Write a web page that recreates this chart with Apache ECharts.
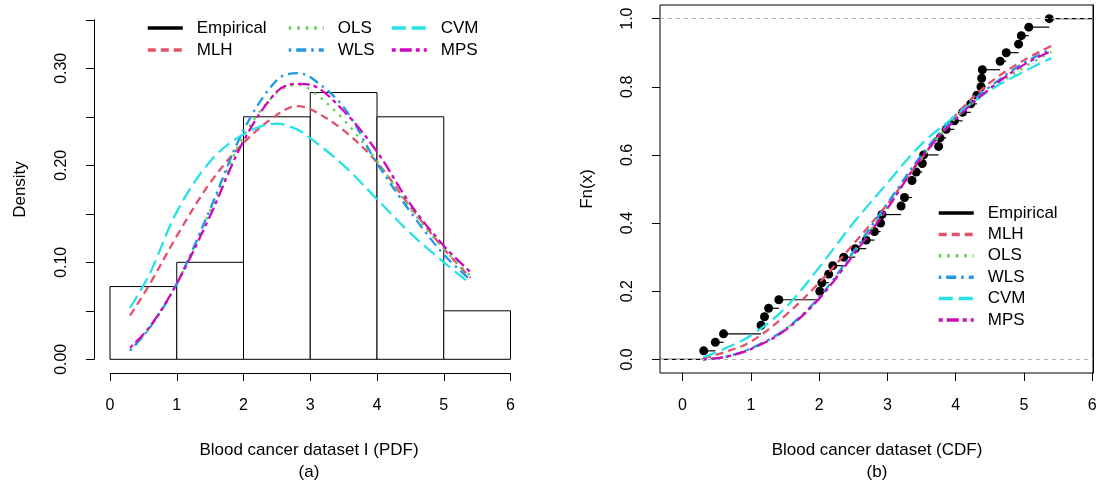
<!DOCTYPE html>
<html>
<head>
<meta charset="utf-8">
<script src="https://cdn.jsdelivr.net/npm/echarts@6/dist/echarts.min.js"></script>
<style>
  html, body { margin: 0; padding: 0; background: #fff; }
  #chart { width: 1098px; height: 485px; }
</style>
</head>
<body>
<div id="chart"></div>
<script>
// histogram (left panel)
const histBreaks = [0, 1, 2, 3, 4, 5, 6];
const histDensity = [0.075, 0.1, 0.25, 0.275, 0.25, 0.05];

// fitted densities
const pdfX = [0.3, 0.6, 1, 1.5, 2, 2.5, 2.8, 3, 3.5, 4, 4.5, 5, 5.4];
const pdfMLH = [0.045, 0.078, 0.127, 0.182, 0.223, 0.252, 0.261, 0.258, 0.236, 0.203, 0.157, 0.114, 0.084];
const pdfOLS = [0.009, 0.033, 0.078, 0.153, 0.23, 0.275, 0.283, 0.278, 0.247, 0.204, 0.155, 0.114, 0.086];
const pdfWLS = [0.009, 0.033, 0.078, 0.155, 0.236, 0.288, 0.295, 0.291, 0.26, 0.202, 0.152, 0.108, 0.082];
const pdfCVM = [0.053, 0.089, 0.152, 0.204, 0.232, 0.243, 0.237, 0.228, 0.2, 0.165, 0.13, 0.1, 0.078];
const pdfMPS = [0.012, 0.034, 0.078, 0.148, 0.225, 0.276, 0.284, 0.283, 0.256, 0.214, 0.16, 0.117, 0.09];

// empirical cdf knots (right panel)
const ecdfX = [0.31, 0.48, 0.60, 1.15, 1.20, 1.26, 1.41, 2.01, 2.04, 2.14, 2.20, 2.36, 2.53, 2.69, 2.81, 2.90, 2.92,
  3.20, 3.25, 3.36, 3.42, 3.51, 3.53, 3.75, 3.77, 3.86, 3.98, 4.10, 4.22, 4.31, 4.37, 4.38, 4.39, 4.65, 4.74, 4.92, 4.96, 5.07, 5.37];
const ecdfF = [0.025, 0.05, 0.075, 0.1, 0.125, 0.15, 0.175, 0.2, 0.225, 0.25, 0.275, 0.3, 0.325, 0.35, 0.375, 0.4, 0.425,
  0.45, 0.475, 0.525, 0.55, 0.575, 0.6, 0.625, 0.65, 0.675, 0.7, 0.725, 0.75, 0.775, 0.8, 0.825, 0.85, 0.875, 0.9, 0.925, 0.95, 0.975, 1.0];

// fitted cdfs
const cdfX = [0.3, 0.6, 1, 1.5, 2, 2.5, 3, 3.5, 4, 4.5, 5, 5.4];
const cdfMLH = [0.003, 0.02, 0.052, 0.128, 0.225, 0.338, 0.456, 0.59, 0.717, 0.812, 0.878, 0.92];
const cdfOLS = [0, 0.006, 0.032, 0.088, 0.18, 0.31, 0.448, 0.588, 0.708, 0.79, 0.857, 0.902];
const cdfWLS = [0, 0.006, 0.032, 0.088, 0.182, 0.316, 0.458, 0.6, 0.715, 0.8, 0.87, 0.91];
const cdfCVM = [0.005, 0.03, 0.07, 0.15, 0.27, 0.4, 0.518, 0.632, 0.715, 0.79, 0.845, 0.884];
const cdfMPS = [0, 0.006, 0.03, 0.085, 0.178, 0.306, 0.443, 0.593, 0.705, 0.795, 0.865, 0.905];

// tick labels
const xTicks = [0, 1, 2, 3, 4, 5, 6];
const cdfYTicks = [0, 0.2, 0.4, 0.6, 0.8, 1.0];

const FONT = '"Liberation Sans", Arial, Helvetica, sans-serif';
const cdfXRange = [-0.33, 6.01];
const cdfYRange = [-0.04, 1.04];

const fits = [
  { name: "MLH", color: "#DF536B", dash: [8, 5], pdf: pdfMLH, cdf: cdfMLH },
  { name: "OLS", color: "#61D04F", dash: [2.5, 6], pdf: pdfOLS, cdf: cdfOLS },
  { name: "WLS", color: "#2297E6", dash: [2.5, 5, 10, 5], pdf: pdfWLS, cdf: cdfWLS },
  { name: "CVM", color: "#28E2E5", dash: [14, 6], pdf: pdfCVM, cdf: cdfCVM },
  { name: "MPS", color: "#CD0BBC", dash: [4, 4, 12, 4], pdf: pdfMPS, cdf: cdfMPS }
];

const chart = echarts.init(document.getElementById("chart"));

const axisText = { fontFamily: FONT, fontSize: 16, color: "#000" };
const blackLine = { lineStyle: { color: "#000", width: 1 } };

function legendCol(names, left, top, gap) {
  return {
    orient: "vertical",
    left: left,
    top: top,
    padding: 0,
    data: names,
    itemGap: gap,
    itemWidth: 35,
    itemHeight: 14,
    selectedMode: false,
    itemStyle: { opacity: 0 },
    lineStyle: { width: 3.5 },
    textStyle: { fontFamily: FONT, fontSize: 17, color: "#000", lineHeight: 18, padding: [0, 0, 0, 9] }
  };
}

function lineSeries(f, xs, ys, axisIdx) {
  return {
    name: f.name,
    type: "line",
    xAxisIndex: axisIdx,
    yAxisIndex: axisIdx,
    data: xs.map((x, i) => [x, ys[i]]),
    symbol: "none",
    smooth: 0.35,
    lineStyle: { color: f.color, width: 2.3, type: f.dash },
    itemStyle: { color: f.color },
    silent: true
  };
}

const series = [
  {
    name: "hist",
    type: "custom",
    xAxisIndex: 0,
    yAxisIndex: 0,
    data: histDensity.map((d, i) => [histBreaks[i], histBreaks[i + 1], d]),
    encode: { x: [0, 1], y: 2 },
    renderItem: (params, api) => {
      const p0 = api.coord([api.value(0), api.value(2)]);
      const p1 = api.coord([api.value(1), 0]);
      return {
        type: "rect",
        shape: { x: p0[0], y: p0[1], width: p1[0] - p0[0], height: p1[1] - p0[1] },
        style: { fill: "#fff", stroke: "#000", lineWidth: 1 }
      };
    }
  },
  {
    name: "Empirical",
    type: "line",
    xAxisIndex: 0,
    yAxisIndex: 0,
    data: [],
    symbol: "none",
    lineStyle: { color: "#000", width: 2.5 },
    itemStyle: { color: "#000" }
  }
];
fits.forEach((f) => series.push(lineSeries(f, pdfX, f.pdf, 0)));

// step segments of the ecdf
const stepData = [[cdfXRange[0], 0, ecdfX[0]]];
ecdfX.forEach((x, i) => {
  stepData.push([x, ecdfF[i], i + 1 < ecdfX.length ? ecdfX[i + 1] : cdfXRange[1]]);
});
series.push({
  name: "steps",
  type: "custom",
  xAxisIndex: 1,
  yAxisIndex: 1,
  data: stepData,
  encode: { x: [0, 2], y: 1 },
  renderItem: (params, api) => {
    const a = api.coord([api.value(0), api.value(1)]);
    const b = api.coord([api.value(2), api.value(1)]);
    return {
      type: "line",
      shape: { x1: a[0], y1: a[1], x2: b[0], y2: b[1] },
      style: { stroke: "#000", lineWidth: 1.2 }
    };
  }
});
series.push({
  name: "points",
  type: "scatter",
  xAxisIndex: 1,
  yAxisIndex: 1,
  data: ecdfX.map((x, i) => [x, ecdfF[i]]),
  symbol: "circle",
  symbolSize: 9,
  itemStyle: { color: "#000", opacity: 1 },
  silent: true
});
fits.forEach((f) => series.push(lineSeries(f, cdfX, f.cdf, 1)));
series.push({
  name: "ref",
  type: "line",
  xAxisIndex: 1,
  yAxisIndex: 1,
  data: [],
  markLine: {
    silent: true,
    symbol: ["none", "none"],
    label: { show: false },
    lineStyle: { color: "#B3B3B3", width: 1, type: [4, 4] },
    data: [{ yAxis: 0 }, { yAxis: 1 }]
  }
});

const option = {
  animation: false,
  backgroundColor: "#fff",
  grid: [
    { left: 110, top: 19.8, width: 400.5, height: 339.5, outerBoundsMode: "none" },
    { left: 660, top: 5, width: 433, height: 368, show: true, borderColor: "#000", borderWidth: 1, backgroundColor: "transparent", outerBoundsMode: "none" }
  ],
  xAxis: [
    {
      gridIndex: 0, type: "value", min: 0, max: 6, interval: 1, offset: 13.7,
      axisLine: { show: true, onZero: false, ...blackLine },
      axisTick: { show: true, length: 8, ...blackLine },
      axisLabel: { ...axisText, margin: 25 },
      splitLine: { show: false }
    },
    {
      gridIndex: 1, type: "value", min: cdfXRange[0], max: cdfXRange[1],
      axisLine: { show: false, onZero: false },
      axisTick: { show: true, length: 8, customValues: xTicks, ...blackLine },
      axisLabel: { ...axisText, margin: 25, customValues: xTicks },
      splitLine: { show: false }
    }
  ],
  yAxis: [
    {
      gridIndex: 0, type: "value", min: 0, max: 0.35, interval: 0.05, offset: 16,
      axisLine: { show: true, onZero: false, ...blackLine },
      axisTick: { show: true, length: 8, ...blackLine },
      axisLabel: {
        ...axisText, rotate: 90, margin: 24,
        formatter: (v) => (Math.round(v * 100) % 10 === 0 ? v.toFixed(2) : "")
      },
      splitLine: { show: false }
    },
    {
      gridIndex: 1, type: "value", min: cdfYRange[0], max: cdfYRange[1],
      axisLine: { show: false, onZero: false },
      axisTick: { show: true, length: 8, customValues: cdfYTicks, ...blackLine },
      axisLabel: { ...axisText, rotate: 90, margin: 24, customValues: cdfYTicks, formatter: (v) => v.toFixed(1) },
      splitLine: { show: false }
    },
    {
      // right edge of the cdf box
      gridIndex: 1, type: "value", position: "right", min: cdfYRange[0], max: cdfYRange[1],
      axisLine: { show: true, onZero: false, ...blackLine },
      axisTick: { show: false },
      axisLabel: { show: false },
      splitLine: { show: false }
    }
  ],
  legend: [
    legendCol(["Empirical", "MLH"], 146, 19, 4),
    legendCol(["OLS", "WLS"], 287, 19, 4),
    legendCol(["CVM", "MPS"], 390, 19, 4),
    legendCol(["Empirical", "MLH", "OLS", "WLS", "CVM", "MPS"], 937, 204, 3.4)
  ],
  graphic: [
    { type: "text", x: 20, y: 189.5, rotation: Math.PI / 2, style: { text: "Density", fontFamily: FONT, fontSize: 17, fill: "#000", align: "center", verticalAlign: "middle" } },
    { type: "text", x: 309, y: 450, style: { text: "Blood cancer dataset I (PDF)", fontFamily: FONT, fontSize: 17, fill: "#000", align: "center", verticalAlign: "middle" } },
    { type: "text", x: 309, y: 472, style: { text: "(a)", fontFamily: FONT, fontSize: 17, fill: "#000", align: "center", verticalAlign: "middle" } },
    { type: "text", x: 587, y: 189, rotation: Math.PI / 2, style: { text: "Fn(x)", fontFamily: FONT, fontSize: 17, fill: "#000", align: "center", verticalAlign: "middle" } },
    { type: "text", x: 877, y: 450, style: { text: "Blood cancer dataset (CDF)", fontFamily: FONT, fontSize: 17, fill: "#000", align: "center", verticalAlign: "middle" } },
    { type: "text", x: 877, y: 472, style: { text: "(b)", fontFamily: FONT, fontSize: 17, fill: "#000", align: "center", verticalAlign: "middle" } }
  ],
  series: series
};

chart.setOption(option);
</script>
</body>
</html>
